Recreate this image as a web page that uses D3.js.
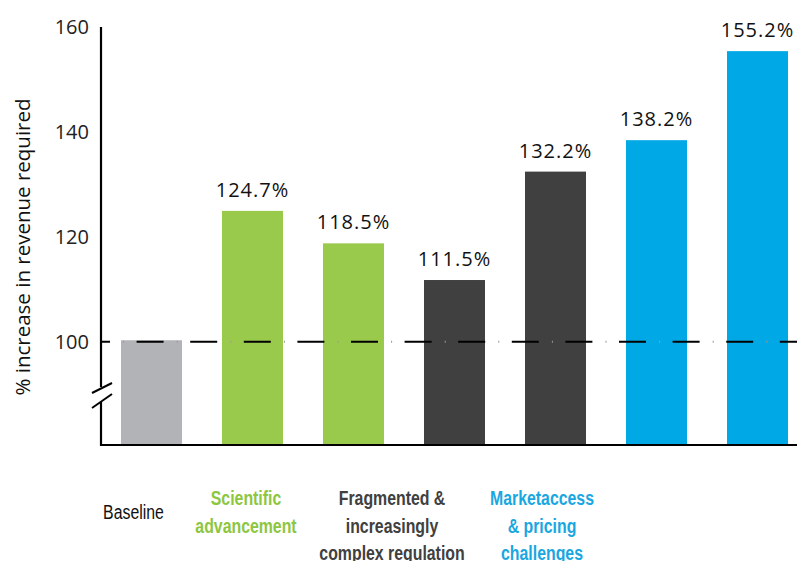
<!DOCTYPE html>
<html><head><meta charset="utf-8">
<script src="https://cdn.jsdelivr.net/npm/d3@7"></script>
<style>
html,body{margin:0;padding:0;background:#fff;}
svg{display:block;}
</style></head>
<body>
<svg id="chart" width="797" height="561"></svg>
<script>
// ---- data ----
const barKeys = ["base", "sci1", "sci2", "reg1", "reg2", "mkt1", "mkt2"];
const values = [100, 124.7, 118.5, 111.5, 132.2, 138.2, 155.2];
const valueLabels = ["", "124.7%", "118.5%", "111.5%", "132.2%", "138.2%", "155.2%"];
const barGroup = ["base", "sci", "sci", "reg", "reg", "mkt", "mkt"];
const groupKeys = ["base", "sci", "reg", "mkt"];
const groupLabels = [["Baseline"], ["Scientific", "advancement"], ["Fragmented &", "increasingly", "complex regulation"], ["Marketaccess", "& pricing", "challenges"]];
const yTicks = [100, 120, 140, 160];
const yTitle = "% increase in revenue required";
const baselineValue = 100;

// ---- styles ----
const barColor = {base: "#b1b3b6", sci: "#9aca4c", reg: "#404041", mkt: "#00a9e6"};
const textColor = {base: "#111111", sci: "#8dc63f", reg: "#404041", mkt: "#1aa7e1"};
const labelCenter = {base: 133.5, sci: 246, reg: 392, mkt: 542};

const svg = d3.select("#chart");
const axisX = 101, axisBottom = 445;

const y = d3.scaleLinear().domain([80, 160]).range([445, 26]);
const x = d3.scaleBand().domain(barKeys).range([101, 808]).paddingInner(0.396).paddingOuter(0.198);

// bars
svg.append("g").selectAll("rect").data(barKeys).join("rect")
  .attr("x", d => x(d))
  .attr("width", x.bandwidth())
  .attr("y", (d, i) => y(values[i]))
  .attr("height", (d, i) => y(80) - y(values[i]))
  .attr("fill", (d, i) => barColor[barGroup[i]]);

// dashed baseline
const yb = y(baselineValue) + 1.5;
svg.append("line").attr("x1", axisX).attr("x2", 797).attr("y1", yb).attr("y2", yb)
  .attr("stroke", "#000").attr("stroke-width", 2)
  .attr("stroke-dasharray", "27,26.6").attr("stroke-dashoffset", 18);
svg.append("line").attr("x1", axisX).attr("x2", 797).attr("y1", yb).attr("y2", yb)
  .attr("stroke", "#999").attr("stroke-width", 2)
  .attr("stroke-dasharray", "1,52.6").attr("stroke-dashoffset", 31.5);

// value labels
svg.append("g").selectAll("text").data(barKeys).join("text")
  .attr("x", d => x(d) + x.bandwidth() / 2)
  .attr("y", (d, i) => y(values[i]) - 14)
  .attr("text-anchor", "middle")
  .attr("font-family", "'Open Sans', 'Noto Sans', sans-serif")
  .attr("font-size", 20)
  .attr("letter-spacing", 1)
  .attr("fill", "#111")
  .text((d, i) => valueLabels[i]);

// y axis (labels via d3 axis)
const yAxis = d3.axisLeft(y).tickValues(yTicks).tickSize(0).tickPadding(12);
const gy = svg.append("g").attr("transform", `translate(${axisX},0)`).call(yAxis);
gy.select(".domain").remove();
gy.selectAll("text")
  .attr("font-family", "'Open Sans', 'Noto Sans', sans-serif")
  .attr("font-size", 20)
  .attr("fill", "#222")
  .attr("dy", "0.72em")
  .attr("transform", "translate(0,-6.5)");

// axis lines with break
const breakTop = 387, breakBot = 402;
svg.append("line").attr("x1", axisX).attr("x2", axisX).attr("y1", 27).attr("y2", breakTop)
  .attr("stroke", "#000").attr("stroke-width", 2.2);
svg.append("line").attr("x1", axisX).attr("x2", axisX).attr("y1", breakBot).attr("y2", axisBottom + 1)
  .attr("stroke", "#000").attr("stroke-width", 2.2);
svg.append("line").attr("x1", axisX - 1).attr("x2", 797).attr("y1", axisBottom).attr("y2", axisBottom)
  .attr("stroke", "#000").attr("stroke-width", 2.2);
[[393, 383], [408, 394]].forEach(([y1, y2]) => {
  svg.append("line").attr("x1", 92).attr("x2", 112).attr("y1", y1).attr("y2", y2)
    .attr("stroke", "#000").attr("stroke-width", 2);
});

// y title
svg.append("text")
  .attr("transform", `translate(30,247) rotate(-90)`)
  .attr("text-anchor", "middle")
  .attr("font-family", "'Open Sans', 'Noto Sans', sans-serif")
  .attr("font-size", 20.5)
  .attr("fill", "#111")
  .text(yTitle);

// category labels (narrow bold look: horizontally condensed sans)
const lineBase = [505, 533, 560];
groupKeys.forEach((g, gi) => {
  const lines = groupLabels[gi];
  const t = svg.append("text")
    .attr("transform", `translate(${labelCenter[g]},0) scale(0.755,1)`)
    .attr("text-anchor", "middle")
    .attr("font-family", "'Liberation Sans', Arial, sans-serif")
    .attr("font-size", 21)
    .attr("font-weight", g === "base" ? 400 : 700)
    .attr("fill", textColor[g]);
  lines.forEach((ln, li) => {
    t.append("tspan").attr("x", 0)
      .attr("y", lines.length === 1 ? 519 : lineBase[li])
      .text(ln);
  });
});
</script>
</body></html>
